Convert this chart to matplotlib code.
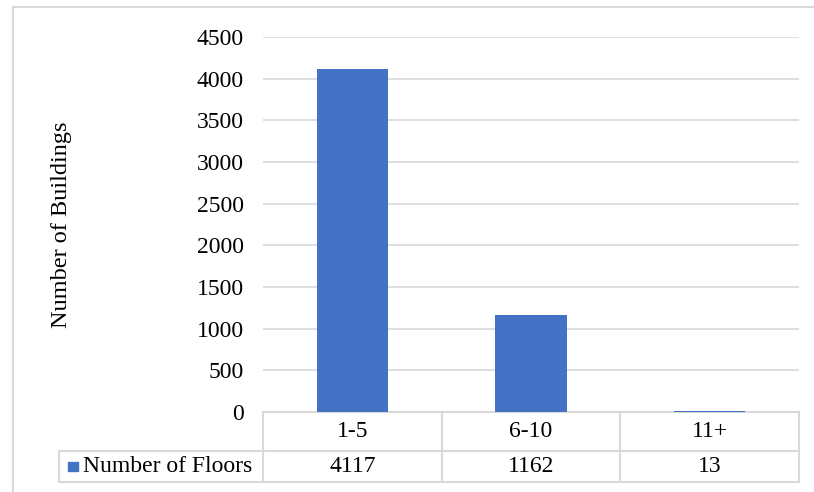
import matplotlib.pyplot as plt
from matplotlib.lines import Line2D
from matplotlib.patches import Rectangle
import matplotlib.transforms as mtransforms

# floor groups and building counts
categories = ["1-5", "6-10", "11+"]
counts = [4117, 1162, 13]
series_name = "Number of Floors"
yticks = [0, 500, 1000, 1500, 2000, 2500, 3000, 3500, 4000, 4500]

bar_color = "#4472C4"
line_color = "#d9d9d9"
fs = 17

plt.rcParams["font.family"] = ["Liberation Serif", "DejaVu Serif"]

fig = plt.figure(figsize=(8.14, 4.92), dpi=100)
ax = fig.add_axes([263 / 814, 1 - 412 / 492, 536 / 814, 375 / 492])

x = list(range(len(categories)))
ax.bar(x, counts, width=0.4, color=bar_color, zorder=3)

ax.set_xlim(-0.5, len(categories) - 0.5)
ax.set_ylim(0, 4500)
ax.set_yticks(yticks)
ax.set_yticklabels([str(t) for t in yticks], fontsize=fs)
ax.set_xticks([])
ax.tick_params(axis="y", length=0, pad=14)
ax.grid(axis="y", color=line_color, linewidth=1.2, zorder=0)
for s in ax.spines.values():
    s.set_visible(False)

ax.set_ylabel("Number of Buildings", fontsize=17.5)
ax.yaxis.set_label_coords(-0.356, 0.5)

# data table under the plot
row1 = -39 / 375
row2 = -70 / 375
left = (59 - 263) / 536
blend = mtransforms.blended_transform_factory(ax.transData, ax.transAxes)

def hline(x0, x1, y):
    ax.add_line(Line2D([x0, x1], [y, y], transform=ax.transAxes,
                       color=line_color, linewidth=1.5, clip_on=False))

hline(0, 1, 0)
hline(left, 1, row1)
hline(left, 1, row2)
ax.add_line(Line2D([left, left], [row1, row2], transform=ax.transAxes,
                   color=line_color, linewidth=1.5, clip_on=False))
for b in [i - 0.5 for i in range(len(categories) + 1)]:
    ax.add_line(Line2D([b, b], [0, row2], transform=blend,
                       color=line_color, linewidth=1.5, clip_on=False))

for i, (cat, val) in enumerate(zip(categories, counts)):
    ax.text(i, row1 / 2, cat, transform=blend, ha="center", va="center", fontsize=fs)
    ax.text(i, (row1 + row2) / 2, str(val), transform=blend, ha="center",
            va="center", fontsize=fs)

ax.add_patch(Rectangle(((68 - 263) / 536, (row1 + row2) / 2 - 0.012), 10 / 536, 9 / 375,
                       transform=ax.transAxes, color=bar_color, clip_on=False))
ax.text((83 - 263) / 536, (row1 + row2) / 2, series_name, transform=ax.transAxes,
        ha="left", va="center", fontsize=fs)

# outer chart frame
fig.add_artist(Line2D([13 / 814, 1], [1 - 7 / 492, 1 - 7 / 492], color=line_color, linewidth=1.5))
fig.add_artist(Line2D([13 / 814, 13 / 814], [0, 1 - 7 / 492], color=line_color, linewidth=1.5))

fig.savefig("out.png", dpi=100, facecolor="white")
